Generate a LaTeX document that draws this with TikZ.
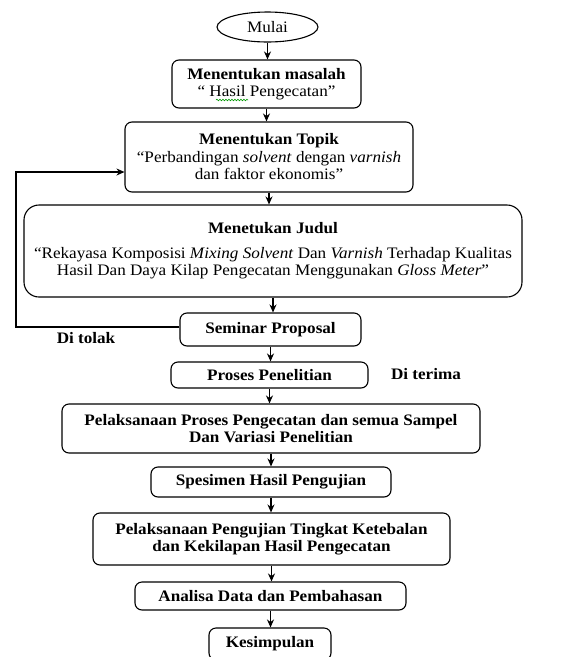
\documentclass[tikz,border=0pt]{standalone}
\usepackage{fontspec}
\setmainfont{Liberation Serif}[FakeStretch=1.07]
\usetikzlibrary{arrows.meta,shapes.geometric,decorations.pathmorphing}
\tikzset{
  box/.style={draw, line width=1.1pt, rounded corners=7pt, align=center, inner sep=0pt, font=\fontsize{16}{17.5}\selectfont},
  conn/.style={line width=1.1pt, -{Stealth[length=8pt,width=7pt]}},
  lbl/.style={font=\fontsize{16}{17.5}\selectfont\bfseries, inner sep=0pt}
}
\begin{document}
\begin{tikzpicture}[x=1pt,y=-1pt]
\useasboundingbox (0,0) rectangle (578,657);
\fill[white] (0,0) rectangle (578,657);
\node[draw, line width=1.1pt, ellipse, minimum width=101pt, minimum height=30pt, inner sep=0pt, font=\fontsize{16}{17.5}\selectfont] (mulai) at (267.5,27) {Mulai};
\node[box, minimum width=189pt, minimum height=48pt] (masalah) at (266.5,84) {\textbf{Menentukan masalah}\\“ Hasil Pengecatan”};
\node[box, minimum width=288pt, minimum height=70pt] (topik) at (269,157) {\textbf{Menentukan Topik}\\“Perbandingan \textit{solvent} dengan \textit{varnish}\\dan faktor ekonomis”};
\node[box, rounded corners=15pt, minimum width=498pt, minimum height=92pt] (judul) at (273,251) {\textbf{Menetukan Judul}\\[7pt]“Rekayasa Komposisi \textit{Mixing Solvent} Dan \textit{Varnish} Terhadap Kualitas\\Hasil Dan Daya Kilap Pengecatan Menggunakan \textit{Gloss Meter}”};
\node[box, minimum width=181pt, minimum height=33pt] (seminar) at (270.5,329.5) {\textbf{Seminar Proposal}};
\node[box, minimum width=197pt, minimum height=26pt] (proses) at (269.5,375) {\textbf{Proses Penelitian}};
\node[box, minimum width=418pt, minimum height=49pt] (pelaksanaan) at (271,428.5) {\textbf{Pelaksanaan Proses Pengecatan dan semua Sampel}\\\textbf{Dan Variasi Penelitian}};
\node[box, minimum width=240pt, minimum height=30pt] (spesimen) at (271,482) {\textbf{Spesimen Hasil Pengujian}};
\node[box, minimum width=357pt, minimum height=52pt] (pengujian) at (271.5,539) {\textbf{Pelaksanaan Pengujian Tingkat Ketebalan}\\\textbf{dan Kekilapan Hasil Pengecatan}};
\node[box, minimum width=271pt, minimum height=28pt] (analisa) at (270.5,596) {\textbf{Analisa Data dan Pembahasan}};
\node[box, minimum width=122pt, minimum height=32pt] (kesimpulan) at (270,644) {\textbf{Kesimpulan}};
\node[lbl] (tolak) at (86,338) {Di tolak};
\node[lbl] (terima) at (426,374) {Di terima};
% spell-check squiggle
\draw[green!60!black, line width=0.6pt, decorate, decoration={snake, amplitude=0.8pt, segment length=3pt}] (216,100) -- (248,100);
% connectors
\foreach \a/\b in {mulai/masalah, masalah/topik, topik/judul, judul/seminar, seminar/proses, proses/pelaksanaan, pelaksanaan/spesimen, spesimen/pengujian, pengujian/analisa, analisa/kesimpulan}
  \draw[conn] (\a.south) -- (\a.south |- \b.north);
\coordinate (fb1) at (16,327);
\coordinate (fb2) at (16,172);
\draw[conn] (seminar.west |- fb1) -- (fb1) -- (fb2) -- (fb2 -| topik.west);
\end{tikzpicture}
\end{document}
